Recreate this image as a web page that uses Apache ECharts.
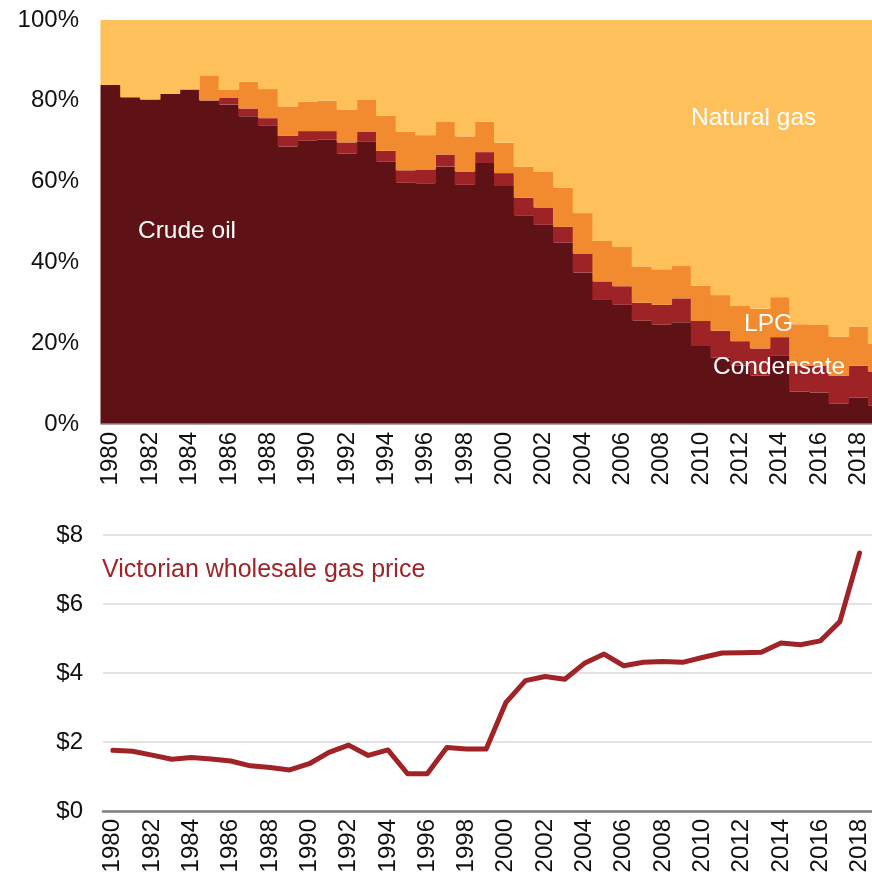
<!DOCTYPE html>
<html>
<head>
<meta charset="utf-8">
<script src="https://cdn.jsdelivr.net/npm/echarts@6/dist/echarts.min.js"></script>
<style>html,body{margin:0;padding:0;background:#fff;}#c{width:872px;height:879px;}</style>
</head>
<body>
<div id="c"></div>
<script>
const years = ['1980','1981','1982','1983','1984','1985','1986','1987','1988','1989','1990','1991','1992','1993','1994','1995','1996','1997','1998','1999','2000','2001','2002','2003','2004','2005','2006','2007','2008','2009','2010','2011','2012','2013','2014','2015','2016','2017','2018','2019'];
const crudeOil   = [83.9,80.9,80.3,81.7,82.8,80.1,79.1,76.2,73.8,68.7,70.1,70.4,66.9,70.0,64.9,59.7,59.6,63.7,59.2,64.6,58.9,51.7,49.3,44.9,37.5,30.7,29.5,25.6,24.6,25.2,19.3,16.4,14.5,12.0,17.0,8.0,7.8,5.0,6.5,4.5];
const condensate = [0,0,0,0,0,0,1.6,1.9,1.9,2.6,2.4,2.1,2.8,2.4,2.7,3.1,3.4,3.0,3.3,2.7,3.2,4.3,4.3,3.9,4.7,4.6,4.6,4.4,4.9,5.9,6.2,6.7,6.0,6.7,4.5,6.4,6.6,6.9,7.9,8.5];
const lpg        = [0,0,0,0,0,6.2,2.0,6.6,7.2,7.3,7.3,7.5,8.1,7.8,8.7,9.6,8.5,8.2,8.7,7.5,7.5,7.7,8.8,9.7,10.0,10.0,9.7,9.0,8.8,8.0,8.7,8.8,8.7,9.8,9.9,10.3,10.1,9.7,9.7,6.8];
const naturalGas = [16.1,19.1,19.7,18.3,17.2,13.7,17.3,15.3,17.1,21.4,20.2,20.0,22.2,19.8,23.7,27.6,28.5,25.1,28.8,25.2,30.4,36.3,37.6,41.5,47.8,54.7,56.2,61.0,61.7,60.9,65.8,68.1,70.8,71.5,68.6,75.3,75.5,78.4,75.9,80.2];
const gasPrice   = [1.76,1.73,1.62,1.50,1.55,1.51,1.45,1.31,1.26,1.19,1.37,1.70,1.91,1.61,1.77,1.08,1.08,1.84,1.80,1.80,3.14,3.78,3.90,3.82,4.28,4.55,4.21,4.31,4.33,4.31,4.45,4.58,4.59,4.60,4.87,4.82,4.93,5.49,7.48,null];
const shareTicks = [0,20,40,60,80,100];
const priceTicks = [0,2,4,6,8];

const FONT = 'Liberation Sans, Arial, sans-serif';
const chart = echarts.init(document.getElementById('c'), null, {renderer:'canvas'});

// build stacked ranges from the component arrays
const layers = [
  {name:'Crude oil', data:crudeOil, color:'#5F1215'},
  {name:'Condensate', data:condensate, color:'#9E2327'},
  {name:'LPG', data:lpg, color:'#F28B30'},
  {name:'Natural gas', data:naturalGas, color:'#FEC05A'}
];
const base = years.map(() => 0);
const stackSeries = layers.map((L, k) => {
  const d = years.map((y, i) => {
    const lo = base[i], hi = base[i] + L.data[i];
    base[i] = hi;
    return [i, lo, hi];
  });
  return {
    name:L.name, type:'custom', xAxisIndex:0, yAxisIndex:0, data:d, silent:true, animation:false,
    encode:{x:0, y:[1,2]}, clip:false, z:2+k,
    renderItem:(params, api) => {
      const p0 = api.coord([api.value(0), api.value(1)]);
      const p1 = api.coord([api.value(0), api.value(2)]);
      const w = api.size([1, 0])[0];
      return {type:'rect', shape:{x:p0[0]-w/2-0.5, y:p1[1], width:w+1, height:p0[1]-p1[1]},
              style:{fill:L.color}};
    }
  };
});

const xLabel = {rotate:90, fontSize:24, color:'#111', fontFamily:FONT, interval:1, margin:8};

chart.setOption({
  animation:false,
  grid:[
    {left:101, top:20, width:787, height:404, outerBoundsMode:'none', containLabel:false},
    {left:103, top:535, width:786, height:276, outerBoundsMode:'none', containLabel:false}
  ],
  xAxis:[
    {type:'category', gridIndex:0, data:years, boundaryGap:true, z:10,
     axisLine:{lineStyle:{color:'#8a8a8a', width:1.5}}, axisTick:{show:false}, axisLabel:xLabel},
    {type:'category', gridIndex:1, data:years, boundaryGap:true,
     axisLine:{lineStyle:{color:'#7f7f7f', width:2.5}}, axisTick:{show:false}, axisLabel:xLabel}
  ],
  yAxis:[
    {type:'value', gridIndex:0, min:shareTicks[0], max:shareTicks[shareTicks.length-1], interval:20,
     axisLabel:{formatter:'{value}%', fontSize:24, color:'#111', fontFamily:FONT, margin:22},
     axisLine:{show:false}, axisTick:{show:false}, splitLine:{show:false}},
    {type:'value', gridIndex:1, min:priceTicks[0], max:priceTicks[priceTicks.length-1], interval:2,
     axisLabel:{formatter:'${value}', fontSize:24, color:'#111', fontFamily:FONT, margin:20},
     axisLine:{show:false}, axisTick:{show:false}, splitLine:{lineStyle:{color:'#d9d9d9', width:1.5}}}
  ],
  series:[
    ...stackSeries,
    {name:'Victorian wholesale gas price', type:'line', xAxisIndex:1, yAxisIndex:1, data:gasPrice,
     showSymbol:false, lineStyle:{color:'#A02328', width:5, cap:'round', join:'round'}, animation:false}
  ],
  graphic:[
    {type:'text', left:138, top:219, style:{text:'Crude oil', fill:'#fff', font:'24.5px '+FONT}, z:100},
    {type:'text', left:691, top:106, style:{text:'Natural gas', fill:'#fff', font:'24.5px '+FONT}, z:100},
    {type:'text', left:744, top:312, style:{text:'LPG', fill:'#fff', font:'24.5px '+FONT}, z:100},
    {type:'text', left:713, top:355, style:{text:'Condensate', fill:'#fff', font:'24.5px '+FONT}, z:100},
    {type:'text', left:102, top:558, style:{text:'Victorian wholesale gas price', fill:'#A02328', font:'25px '+FONT}, z:100}
  ]
});
</script>
</body>
</html>
